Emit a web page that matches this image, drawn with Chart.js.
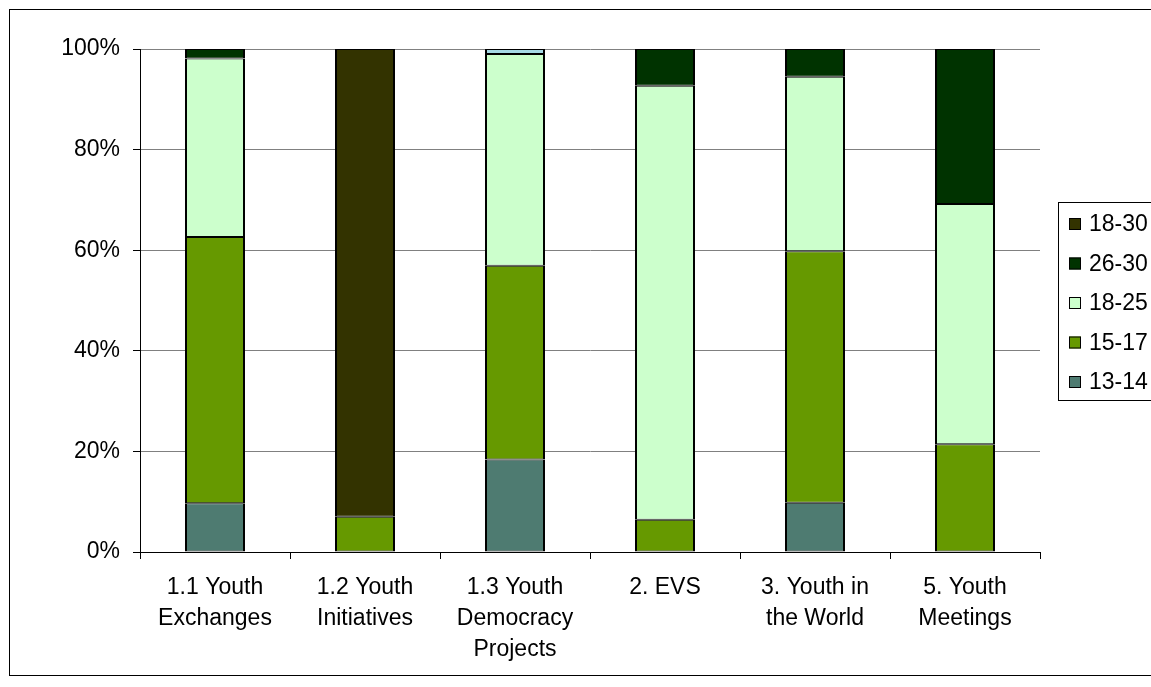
<!DOCTYPE html>
<html>
<head>
<meta charset="utf-8">
<script src="https://cdn.jsdelivr.net/npm/chart.js@4/dist/chart.umd.min.js"></script>
<style>
  html, body { margin: 0; padding: 0; background: #fff; overflow: hidden; }
  #wrap { position: relative; width: 1151px; height: 687px; }
  #frame { position: absolute; left: 9px; top: 9px; width: 1200px; height: 667px; border: 1px solid #000; box-sizing: border-box; pointer-events: none; }
</style>
</head>
<body>
<div id="wrap">
  <canvas id="chart" width="1151" height="687"></canvas>
  <div id="frame"></div>
</div>
<script>
// categories (multi-line labels)
const categories = [
  ['1.1 Youth', 'Exchanges'],
  ['1.2 Youth', 'Initiatives'],
  ['1.3 Youth', 'Democracy', 'Projects'],
  ['2. EVS'],
  ['3. Youth in', 'the World'],
  ['5. Youth', 'Meetings']
];

// series values (percent of each bar)
const age13to14 = [9.7, 0, 18.4, 0, 9.8, 0];
const age15to17 = [52.9, 7.0, 38.5, 6.4, 50.0, 21.4];
const age18to25 = [35.5, 0, 42.1, 86.3, 34.7, 47.8];
const age26to30 = [1.9, 0, 0, 7.3, 5.5, 30.8];
const age18to30 = [0, 93.0, 0, 0, 0, 0];
const unlisted  = [0, 0, 1.0, 0, 0, 0];   // thin cap on 1.3, not in legend

const yTicks = [0, 20, 40, 60, 80, 100];

const FONT = "'Liberation Sans', Arial, sans-serif";
const FONT_SIZE = 23;

// Legend drawn as a boxed list at the right edge (clipped like the original)
const boxLegend = {
  id: 'boxLegend',
  afterDraw(chart) {
    const ctx = chart.ctx;
    ctx.save();
    ctx.strokeStyle = '#000';
    ctx.lineWidth = 1;
    ctx.strokeRect(1058.5, 202.5, 200, 198);
    const items = chart.data.datasets.filter(d => d.inLegend).reverse();
    ctx.font = FONT_SIZE + 'px ' + FONT;
    ctx.textBaseline = 'middle';
    items.forEach((d, i) => {
      const y = 224 + i * 39.5;
      ctx.fillStyle = d.backgroundColor;
      ctx.fillRect(1069, y - 6, 12, 12);
      ctx.strokeStyle = '#000';
      ctx.strokeRect(1069.5, y - 5.5, 11, 11);
      ctx.fillStyle = '#000';
      ctx.fillText(d.label, 1089, y + 1);
    });
    ctx.restore();
  }
};

const bar = (label, data, color, inLegend = true) => ({
  label, data, inLegend,
  backgroundColor: color,
  borderColor: '#000',
  // no outline on empty segments; thinner top/bottom so joins stay ~2px
  borderWidth: c => (c.raw ? { left: 2, right: 2, top: 1, bottom: 1 } : 0),
  borderSkipped: false,
  barPercentage: 1,
  categoryPercentage: 0.4
});

new Chart(document.getElementById('chart'), {
  type: 'bar',
  data: {
    labels: categories,
    datasets: [
      bar('13-14', age13to14, '#4E7B71'),
      bar('15-17', age15to17, '#669900'),
      bar('18-25', age18to25, '#CCFFCC'),
      bar('26-30', age26to30, '#003300'),
      bar('18-30', age18to30, '#333300'),
      bar('', unlisted, '#A6DAE6', false)
    ]
  },
  options: {
    responsive: false,
    animation: false,
    layout: { padding: { left: 0, top: 49, right: 111, bottom: 0 } },
    plugins: {
      legend: { display: false },
      tooltip: { enabled: false }
    },
    scales: {
      x: {
        stacked: true,
        afterFit: s => { s.height = 135; },
        grid: { offset: true, drawOnChartArea: false, tickLength: 7, tickColor: '#000' },
        border: { color: '#000', width: 1 },
        ticks: {
          color: '#000',
          padding: 13,
          font: { family: FONT, size: FONT_SIZE, lineHeight: 31 / FONT_SIZE }
        }
      },
      y: {
        stacked: true,
        min: 0,
        max: 100,
        afterFit: s => { s.width = 140; },
        afterBuildTicks: s => { s.ticks = yTicks.map(v => ({ value: v })); },
        grid: {
          color: ctx => ctx.index === 0 ? '#000' : '#808080',
          tickLength: 7,
          tickColor: '#000'
        },
        border: { color: '#000', width: 1 },
        ticks: {
          color: '#000',
          padding: 13,
          font: { family: FONT, size: FONT_SIZE },
          callback: v => v + '%'
        }
      }
    }
  },
  plugins: [boxLegend]
});
</script>
</body>
</html>
